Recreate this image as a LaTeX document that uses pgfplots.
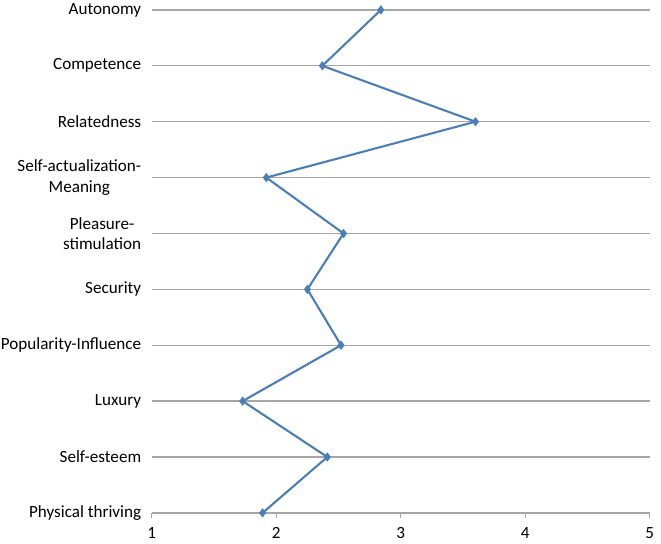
\documentclass[border=0pt]{standalone}
\usepackage{pgfplots}
\pgfplotsset{compat=1.18}
\usepackage{fontspec}
\setmainfont{Carlito}
\definecolor{serblue}{HTML}{4A7EBB}
\definecolor{gridgray}{HTML}{A6A6A6}
\begin{document}
\fontsize{17.3pt}{20pt}\selectfont
\begin{tikzpicture}
\begin{axis}[
  name=ax,
  scale only axis,
  width=502bp, height=507bp,
  xmin=1, xmax=5, ymin=0, ymax=9,
  xtick={1,2,3,4,5},
  ytick={0,1,2,3,4,5,6,7,8,9},
  yticklabels={Physical thriving,Self-esteem,Luxury,Popularity-Influence,Security,{Pleasure-\\stimulation},{Self-actualization-\\Meaning},Relatedness,Competence,Autonomy},
  axis x line*=bottom,
  axis y line*=left,
  y axis line style={draw=none},
  x axis line style={gridgray, line width=1.3bp},
  ymajorgrids,
  major grid style={gridgray, line width=1.3bp},
  ytick style={draw=none},
  xtick style={gridgray, line width=1.3bp},
  tick align=outside,
  major tick length=5bp,
  yticklabel style={align=center, inner sep=0pt, xshift=-5.5bp, font=\fontsize{17.3pt}{20.5pt}\selectfont},
  xticklabel style={inner sep=0pt, anchor=north, yshift=-9.5bp, font=\fontsize{17.3pt}{20pt}\selectfont},
  /pgf/number format/assume math mode=true,
  clip=false,
]
\addplot[serblue, line width=2.1bp, mark=diamond*, mark size=3bp, mark options={solid}] coordinates {
  (2.84,9) (2.37,8) (3.60,7) (1.92,6) (2.54,5) (2.25,4) (2.52,3) (1.73,2) (2.41,1) (1.89,0)
};
\end{axis}
\pgfresetboundingbox
\path (ax.south west) ++(-153bp,-31bp) coordinate (bl);
\path (ax.north east) ++(11.3bp,10bp) coordinate (tr);
\path[use as bounding box] (bl) rectangle (tr);
\end{tikzpicture}
\end{document}
